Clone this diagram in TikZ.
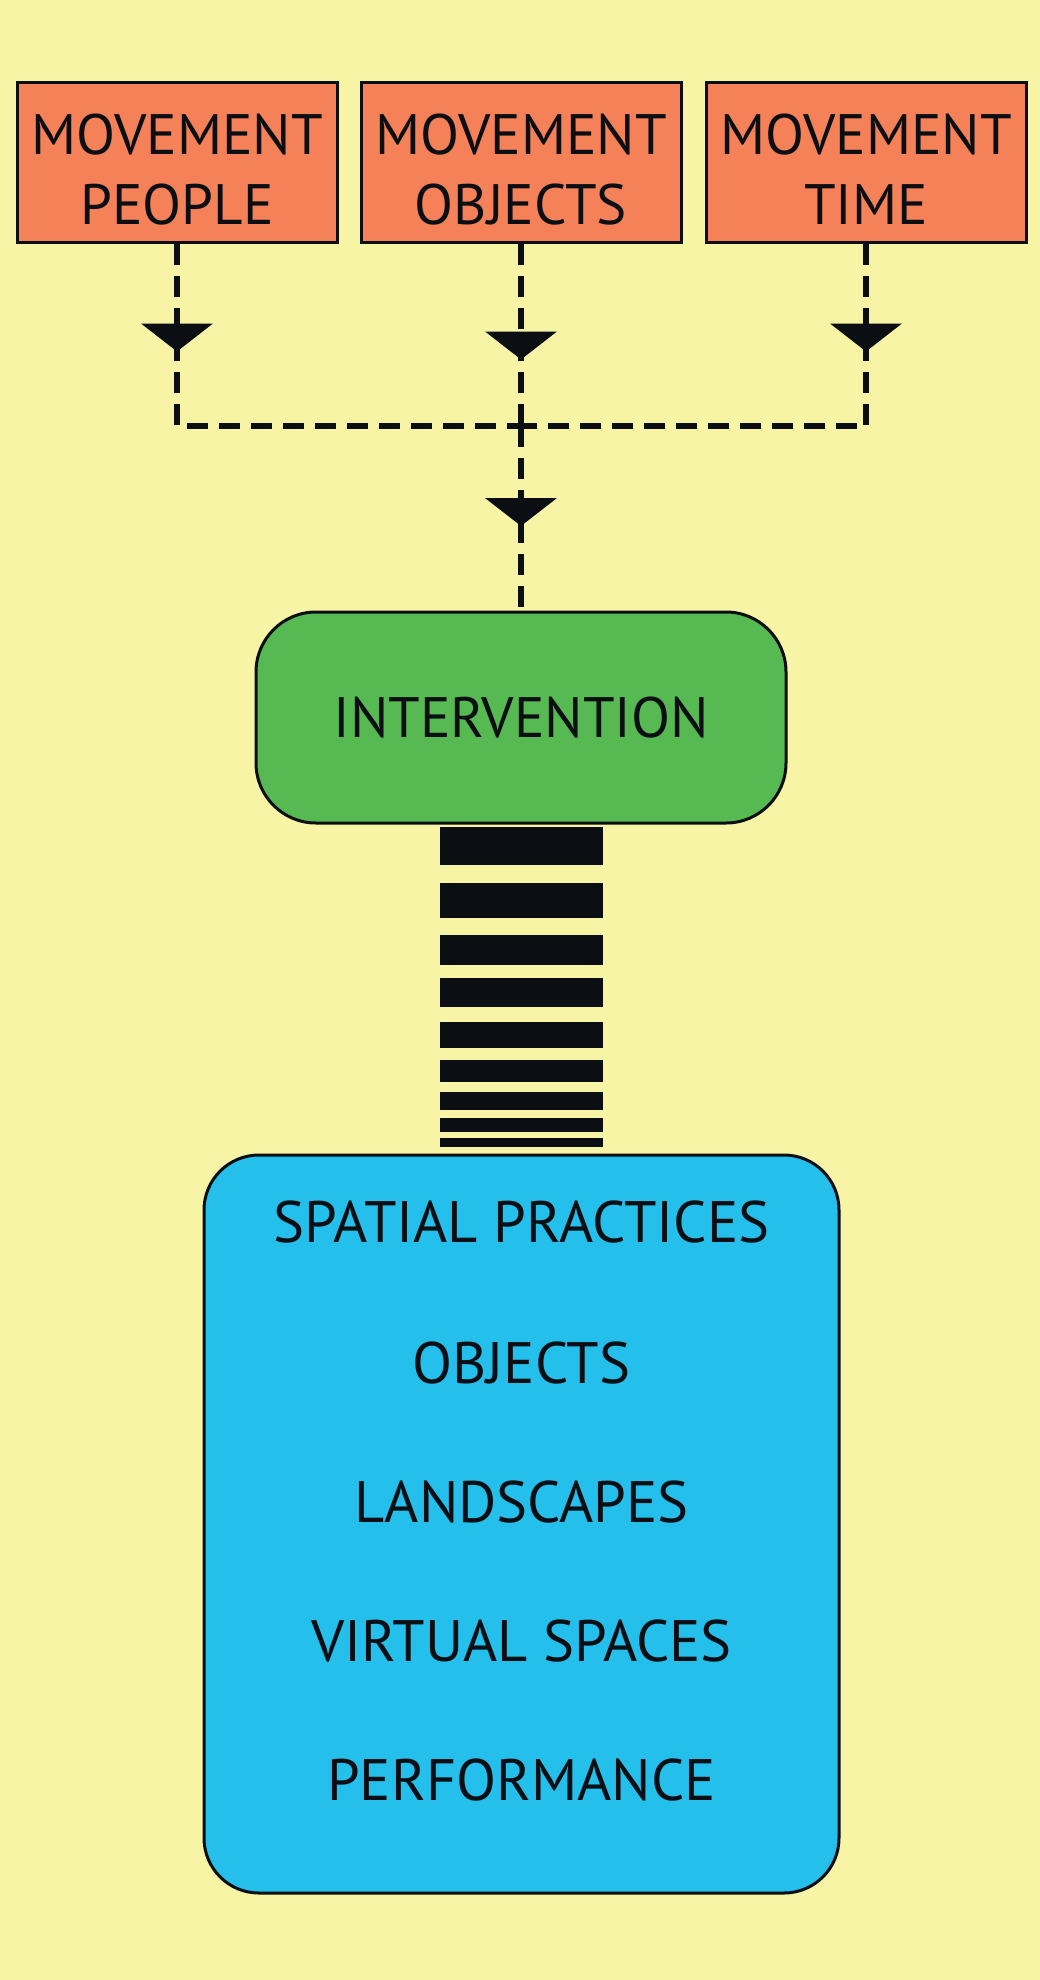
\documentclass[tikz,border=0pt]{standalone}
\usepackage{fontspec}
\setmainfont{PT Sans}
\usetikzlibrary{decorations.markings}
\definecolor{bgc}{HTML}{F7F4A6}
\definecolor{orangec}{HTML}{F58158}
\definecolor{greenc}{HTML}{56B952}
\definecolor{bluec}{HTML}{24BFEB}
\definecolor{inkc}{HTML}{0B0F14}
\tikzset{
  bigtext/.style={font=\fontsize{57}{70}\selectfont, text=inkc},
  orangebox/.style={draw=inkc, line width=3pt, fill=orangec, minimum width=320pt, minimum height=159pt, inner sep=0pt, align=center, bigtext},
  greenbox/.style={draw=inkc, line width=3pt, fill=greenc, rounded corners=60pt, minimum width=530pt, minimum height=211pt, inner sep=0pt, bigtext},
  bluebox/.style={draw=inkc, line width=3pt, fill=bluec, rounded corners=55pt, minimum width=635pt, minimum height=738pt, inner sep=0pt},
  listtext/.style={font=\fontsize{58.5}{70}\selectfont, text=inkc, anchor=base, inner sep=0pt},
  dashline/.style={draw=inkc, line width=5.5pt, dash pattern=on 21pt off 11pt},
  midarrow/.style={postaction={decorate, decoration={markings,
     mark=at position #1 with {\fill[inkc] (0pt,0pt) -- (-28pt,36pt) -- (-28pt,-36pt) -- cycle;}}}},
  stripe/.style={fill=inkc}
}
\begin{document}
\begin{tikzpicture}[x=1pt,y=-1pt]
\fill[bgc] (0,0) rectangle (1040,1980);
\useasboundingbox (0,0) rectangle (1040,1980);

\node[orangebox] (b1) at (177,162.5) {\rule{0pt}{54pt}MOVEMENT\\PEOPLE};
\node[orangebox] (b2) at (521,162.5) {\rule{0pt}{54pt}MOVEMENT\\OBJECTS};
\node[orangebox] (b3) at (866,162.5) {\rule{0pt}{54pt}MOVEMENT\\TIME};

\coordinate (j) at (521,426);

\node[greenbox] (g) at (521,717.5) {INTERVENTION};

\draw[dashline, midarrow=108pt] (b1.south) |- (j);
\draw[dashline, midarrow=116pt] (b2.south) -- (j);
\draw[dashline, midarrow=108pt] (b3.south) |- (j);
\draw[dashline, midarrow=100pt] (j) -- (g.north);

% striped bar
\foreach \a/\b in {827/865, 883/918, 935/965, 978/1007, 1022/1048, 1060/1082, 1092/1110, 1118/1132, 1138/1147}
  \fill[stripe] (440,\a) rectangle (603,\b);

\node[bluebox] (bl) at (521.5,1524) {};
\node[listtext] (t1) at (521.5,1242) {SPATIAL PRACTICES};
\node[listtext] (t2) at (521.5,1383) {OBJECTS};
\node[listtext] (t3) at (521.5,1522) {LANDSCAPES};
\node[listtext] (t4) at (521.5,1661) {VIRTUAL SPACES};
\node[listtext] (t5) at (521.5,1800) {PERFORMANCE};
\end{tikzpicture}
\end{document}
